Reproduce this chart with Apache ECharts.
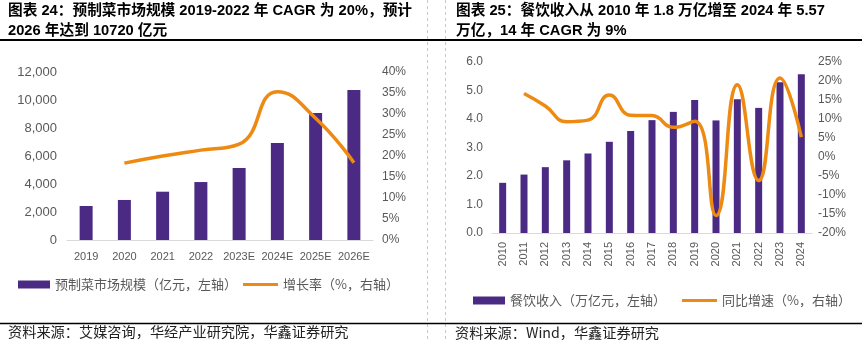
<!DOCTYPE html>
<html>
<head>
<meta charset="utf-8">
<script src="https://cdn.jsdelivr.net/npm/echarts@6/dist/echarts.min.js"></script>
<style>
  html, body { margin: 0; padding: 0; background: #fff; }
  #chart { width: 862px; height: 342px; }
</style>
</head>
<body>
<div id="chart"></div>
<script>
// 图表 24：预制菜市场规模
const leftCategories = ['2019', '2020', '2021', '2022', '2023E', '2024E', '2025E', '2026E'];
const marketSize = [2430, 2860, 3450, 4140, 5140, 6930, 9070, 10720];
const marketGrowth = [null, 18.3, 20.0, 21.4, 22.8, 35.3, 29.0, 18.4];
const leftSizeTicks = [0, 12000, 2000];
const leftGrowthTicks = [0, 40, 5];

// 图表 25：餐饮收入
const rightCategories = ['2010', '2011', '2012', '2013', '2014', '2015', '2016', '2017',
  '2018', '2019', '2020', '2021', '2022', '2023', '2024'];
const cateringRevenue = [1.76, 2.05, 2.31, 2.55, 2.79, 3.20, 3.58, 3.96, 4.25, 4.67, 3.95, 4.69, 4.39, 5.29, 5.57];
const cateringGrowth = [null, 16.7, 13.4, 9.3, 9.7, 16.3, 11.0, 10.9, 7.8, 9.4, -15.4, 19.0, -6.2, 20.8, 5.2];
const rightRevenueTicks = [0, 6, 1];
const rightGrowthTicks = [-20, 25, 5];

const PURPLE = '#4B2A84';
const ORANGE = '#EE8A12';
const AXIS_TEXT = '#595959';
const LATIN = '"Liberation Sans", Arial, sans-serif';
const CJK = '"Noto Sans CJK SC", sans-serif';
const TITLE_FONT = '"Liberation Sans", "Noto Sans CJK SC", sans-serif';

const chart = echarts.init(document.getElementById('chart'), null, { renderer: 'canvas' });

const axisLabel = { color: AXIS_TEXT, fontFamily: LATIN, fontSize: 12 };
const thousands = v => v.toLocaleString('en-US');

function legendItem(name, left, top, isBar) {
  return {
    data: [{ name: name, icon: 'rect' }],
    left: left,
    top: top,
    padding: 0,
    selectedMode: false,
    itemWidth: isBar ? 32 : 35,
    itemHeight: isBar ? 8 : 3,
    itemGap: 0,
    textStyle: { color: AXIS_TEXT, fontFamily: CJK, fontSize: 13 }
  };
}

function text(str, x, y, opts) {
  return {
    type: 'text',
    x: x,
    y: y,
    silent: true,
    style: Object.assign({
      text: str,
      fill: '#000',
      fontFamily: CJK,
      fontSize: 14,
      verticalAlign: 'middle',
      align: 'left'
    }, opts || {})
  };
}

function hline(y, w) {
  return { type: 'line', silent: true, shape: { x1: 0, y1: y, x2: 862, y2: y },
    style: { stroke: '#000', lineWidth: w } };
}
function vdash(x) {
  return { type: 'line', silent: true, shape: { x1: x, y1: 0, x2: x, y2: 342 },
    style: { stroke: '#C8C8C8', lineWidth: 1, lineDash: [3, 3] } };
}

const titleStyle = { fontFamily: TITLE_FONT, fontWeight: 'bold', fontSize: 14.7 };
const sourceStyle = { fontSize: 14.2, fill: '#222' };

const option = {
  animation: false,
  backgroundColor: '#fff',
  grid: [
    { left: 67, right: 862 - 373, top: 72, bottom: 342 - 240 },
    { left: 492, right: 862 - 812, top: 62, bottom: 342 - 233 }
  ],
  legend: [
    legendItem('预制菜市场规模（亿元，左轴）', 18, 278, true),
    legendItem('增长率（%，右轴）', 243, 278, false),
    legendItem('餐饮收入（万亿元，左轴）', 473, 294, true),
    legendItem('同比增速（%，右轴）', 682, 294, false)
  ],
  xAxis: [
    {
      type: 'category', gridIndex: 0, data: leftCategories,
      axisLine: { lineStyle: { color: '#D9D9D9', width: 1 } },
      axisTick: { show: false },
      axisLabel: Object.assign({}, axisLabel, { fontSize: 11, margin: 11, interval: 0 })
    },
    {
      type: 'category', gridIndex: 1, data: rightCategories,
      axisLine: { lineStyle: { color: '#D9D9D9', width: 1 } },
      axisTick: { show: false },
      axisLabel: Object.assign({}, axisLabel, { fontSize: 11, margin: 9, interval: 0, rotate: 90 })
    }
  ],
  yAxis: [
    {
      type: 'value', gridIndex: 0, min: leftSizeTicks[0], max: leftSizeTicks[1], interval: leftSizeTicks[2],
      splitLine: { show: false }, axisLine: { show: false }, axisTick: { show: false },
      axisLabel: Object.assign({}, axisLabel, { fontSize: 13, margin: 10, formatter: thousands })
    },
    {
      type: 'value', gridIndex: 0, position: 'right',
      min: leftGrowthTicks[0], max: leftGrowthTicks[1], interval: leftGrowthTicks[2],
      splitLine: { show: false }, axisLine: { show: false }, axisTick: { show: false },
      axisLabel: Object.assign({}, axisLabel, { margin: 9, formatter: '{value}%' })
    },
    {
      type: 'value', gridIndex: 1, min: rightRevenueTicks[0], max: rightRevenueTicks[1], interval: rightRevenueTicks[2],
      splitLine: { show: false }, axisLine: { show: false }, axisTick: { show: false },
      axisLabel: Object.assign({}, axisLabel, { margin: 9, formatter: v => v.toFixed(1) })
    },
    {
      type: 'value', gridIndex: 1, position: 'right',
      min: rightGrowthTicks[0], max: rightGrowthTicks[1], interval: rightGrowthTicks[2],
      splitLine: { show: false }, axisLine: { show: false }, axisTick: { show: false },
      axisLabel: Object.assign({}, axisLabel, { margin: 6, formatter: '{value}%' })
    }
  ],
  series: [
    {
      name: '预制菜市场规模（亿元，左轴）', type: 'bar', xAxisIndex: 0, yAxisIndex: 0,
      data: marketSize, barWidth: 13, itemStyle: { color: PURPLE }
    },
    {
      name: '增长率（%，右轴）', type: 'line', xAxisIndex: 0, yAxisIndex: 1,
      data: marketGrowth, smooth: 0.5, symbol: 'none',
      lineStyle: { color: ORANGE, width: 3.5 }, itemStyle: { color: ORANGE }
    },
    {
      name: '餐饮收入（万亿元，左轴）', type: 'bar', xAxisIndex: 1, yAxisIndex: 2,
      data: cateringRevenue, barWidth: 7, itemStyle: { color: PURPLE }
    },
    {
      name: '同比增速（%，右轴）', type: 'line', xAxisIndex: 1, yAxisIndex: 3,
      data: cateringGrowth, smooth: 0.5, symbol: 'none',
      lineStyle: { color: ORANGE, width: 3.5 }, itemStyle: { color: ORANGE }
    }
  ],
  graphic: [
    vdash(427.5),
    vdash(445.5),
    hline(40, 2),
    hline(323.5, 1.5),
    text('图表 24：预制菜市场规模 2019-2022 年 CAGR 为 20%，预计', 8, 11, titleStyle),
    text('2026 年达到 10720 亿元', 8, 31, titleStyle),
    text('图表 25：餐饮收入从 2010 年 1.8 万亿增至 2024 年 5.57', 456, 11, titleStyle),
    text('万亿，14 年 CAGR 为 9%', 456, 31, titleStyle),
    text('资料来源：艾媒咨询，华经产业研究院，华鑫证券研究', 8, 332, sourceStyle),
    text('资料来源：Wind，华鑫证券研究', 455, 333, sourceStyle)
  ]
};

chart.setOption(option);
</script>
</body>
</html>
